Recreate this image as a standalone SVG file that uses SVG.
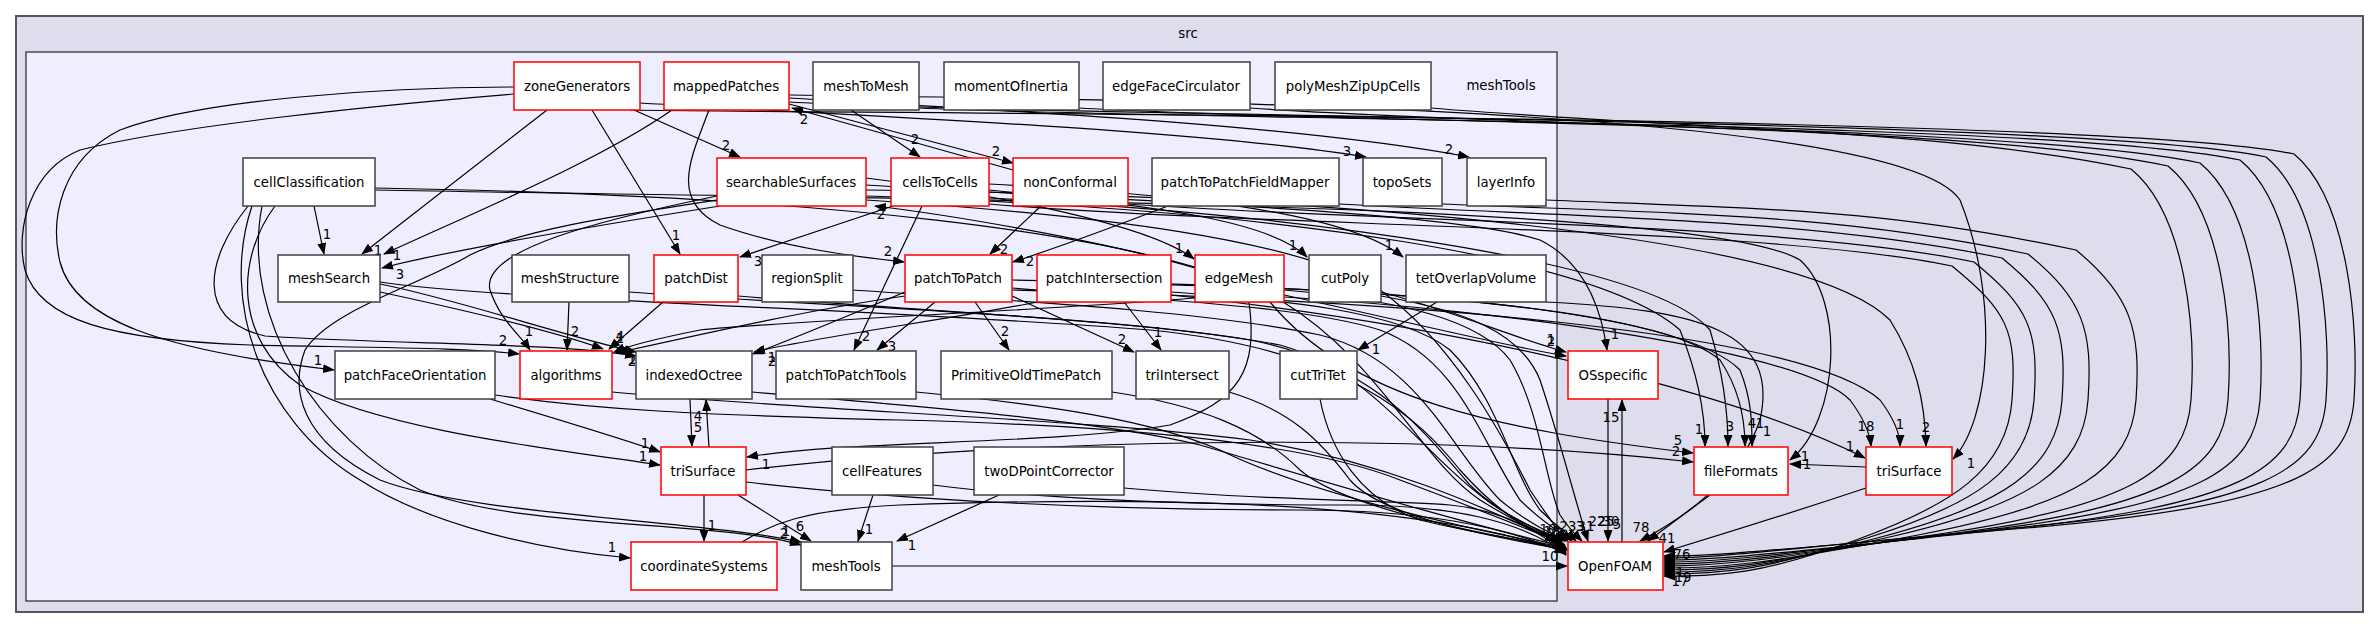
<svg xmlns="http://www.w3.org/2000/svg" width="2379" height="628" viewBox="0 0 2379 628">
<style>
.nb{fill:#fff;stroke:#404040;stroke-width:1.5}
.nr{fill:#fff;stroke:#ff0000;stroke-width:1.5}
.t{font-family:"DejaVu Sans","Liberation Sans",sans-serif;font-size:13.3px;text-anchor:middle;fill:#000}
.e{fill:none;stroke:#000;stroke-width:1.2;marker-end:url(#ah)}
.l{font-family:"DejaVu Sans","Liberation Sans",sans-serif;font-size:13.3px;text-anchor:middle;fill:#000}
</style>
<defs>
<marker id="ah" markerWidth="12" markerHeight="9" refX="11" refY="4.5" orient="auto" markerUnits="userSpaceOnUse"><path d="M0,0 L12,4.5 L0,9 z" fill="#000"/></marker>
</defs>
<g id="clusters">
<rect x="16" y="16" width="2347" height="596" fill="#ddddee" stroke="#555" stroke-width="2"/>
<text class="t" x="1188" y="38">src</text>
<rect x="26" y="52" width="1531" height="549" fill="#eeeeff" stroke="#333" stroke-width="1.3"/>
<text class="t" x="1501" y="90">meshTools</text>
</g>
<g id="edges">
<path class="e" d="M514,94 C380,105 180,125 80,150 C30,170 15,230 25,270 C40,320 110,340 250,345 C400,348 470,348 519,354"/>
<path class="e" d="M514,87 C380,87 200,100 120,130 C60,160 50,220 60,262 C75,320 160,350 334,370"/>
<path class="e" d="M547,110 L362,254"/>
<path class="e" d="M592,110 L680,254"/>
<path class="e" d="M634,110 L740,157"/>
<path class="e" d="M640,103 C900,118 1200,130 1366,157"/>
<path class="e" d="M789,98 C1000,110 1300,125 1469,157"/>
<path class="e" d="M672,110 C600,160 480,210 384,254"/>
<path class="e" d="M709,110 C690,160 670,200 720,225 C790,250 870,258 904,262"/>
<path class="e" d="M789,104 L1013,163"/>
<path class="e" d="M1013,170 L792,108"/>
<path class="e" d="M851,110 L920,157"/>
<path class="e" d="M1041,206 L990,254"/>
<path class="e" d="M1168,206 C1100,232 1050,250 1013,262"/>
<path class="e" d="M922,206 L854,350"/>
<path class="e" d="M893,206 L740,257"/>
<path class="e" d="M1195,268 C1100,240 950,215 875,206"/>
<path class="e" d="M866,178 C1000,195 1150,225 1194,259"/>
<path class="e" d="M989,190 C1150,205 1270,220 1307,257"/>
<path class="e" d="M989,184 C1200,195 1350,215 1403,257"/>
<path class="e" d="M1437,302 L1358,350"/>
<path class="e" d="M935,302 L877,350"/>
<path class="e" d="M975,302 L1009,350"/>
<path class="e" d="M1012,296 L1134,352"/>
<path class="e" d="M1124,302 L1161,350"/>
<path class="e" d="M905,292 C850,315 790,340 753,354"/>
<path class="e" d="M1037,302 C960,318 820,336 754,352"/>
<path class="e" d="M1195,298 C1050,310 800,320 700,330 C660,338 630,345 614,352"/>
<path class="e" d="M905,296 C820,308 720,330 616,353"/>
<path class="e" d="M380,284 C460,300 560,335 636,352"/>
<path class="e" d="M248,206 C205,260 195,320 265,336 C400,345 550,342 636,356"/>
<path class="e" d="M690,399 L692,446"/>
<path class="e" d="M709,447 L706,400"/>
<path class="e" d="M704,495 L704,541"/>
<path class="e" d="M738,495 L811,541"/>
<path class="e" d="M873,495 L858,541"/>
<path class="e" d="M999,495 L897,541"/>
<path class="e" d="M1249,302 C1258,370 1240,400 1170,425 C1050,445 850,440 747,457"/>
<path class="e" d="M314,206 L324,254"/>
<path class="e" d="M380,292 C450,307 550,330 603,349"/>
<path class="e" d="M569,302 L567,350"/>
<path class="e" d="M663,302 L609,349"/>
<path class="e" d="M490,399 C560,420 620,438 660,452"/>
<path class="e" d="M275,206 C235,260 235,340 300,385 C380,430 560,450 660,465"/>
<path class="e" d="M252,206 C220,300 260,420 360,480 C430,525 540,550 630,558"/>
<path class="e" d="M262,206 C240,320 320,440 420,490 C520,530 720,520 801,545"/>
<path class="e" d="M717,200 C620,215 520,230 470,255 C420,285 330,310 305,350 C290,390 300,440 380,480 C470,515 700,520 801,542"/>
<path class="e" d="M717,196 C600,220 480,250 490,290 C500,320 520,335 530,350"/>
<path class="e" d="M720,206 C600,225 450,250 382,268"/>
<path class="e" d="M1381,292 C1450,310 1520,340 1566,352"/>
<path class="e" d="M1284,295 C1400,320 1500,345 1566,356"/>
<path class="e" d="M866,185 C1100,200 1450,210 1540,240 C1580,260 1600,300 1607,350"/>
<path class="e" d="M1608,399 L1608,541"/>
<path class="e" d="M1622,542 L1622,400"/>
<path class="e" d="M1710,495 L1648,541"/>
<path class="e" d="M1270,302 C1350,400 1500,430 1693,453"/>
<path class="e" d="M746,470 C1000,440 1400,430 1693,462"/>
<path class="e" d="M866,196 C1300,210 1600,260 1680,330 C1700,380 1705,420 1705,446"/>
<path class="e" d="M989,198 C1300,215 1650,260 1710,330 C1725,380 1728,420 1728,446"/>
<path class="e" d="M1012,280 C1300,285 1650,300 1720,360 C1740,390 1745,420 1745,446"/>
<path class="e" d="M1171,285 C1400,290 1680,310 1740,370 C1752,400 1752,425 1752,446"/>
<path class="e" d="M375,190 C900,200 1700,200 1800,260 C1845,300 1840,420 1790,460"/>
<path class="e" d="M1866,467 L1790,464"/>
<path class="e" d="M866,190 C1300,195 1800,230 1890,320 C1915,360 1925,400 1926,446"/>
<path class="e" d="M1012,290 C1400,300 1800,330 1880,400 C1895,420 1900,435 1900,446"/>
<path class="e" d="M1284,297 C1500,310 1800,350 1850,400 C1865,420 1870,435 1871,446"/>
<path class="e" d="M1171,295 C1500,330 1750,400 1865,458"/>
<path class="e" d="M789,95 C1200,100 1900,110 1960,200 C2000,300 1990,420 1953,459"/>
<path class="e" d="M1866,488 C1800,510 1720,535 1664,552"/>
<path class="e" d="M630,110 C880,114 2104,114 2294,154 C2349,199 2359,330 2354,400 C2349,470 2294,505 2027,528 S1720,556 1664,556"/>
<path class="e" d="M789,102 C1039,117 2076,117 2266,157 C2321,202 2331,330 2326,400 C2321,470 2266,505 2013,528 S1720,558 1664,558"/>
<path class="e" d="M919,108 C1169,120 2050,120 2240,160 C2295,205 2305,330 2300,400 C2295,470 2240,505 2000,530 S1720,560 1664,560"/>
<path class="e" d="M1079,108 C1329,123 2010,123 2200,163 C2255,208 2265,330 2260,400 C2255,470 2200,505 1980,531 S1720,562 1664,562"/>
<path class="e" d="M1250,108 C1500,126 1978,126 2168,166 C2223,211 2233,330 2228,400 C2223,470 2168,505 1964,532 S1720,564 1664,564"/>
<path class="e" d="M1431,108 C1681,129 1941,129 2131,169 C2186,214 2196,330 2191,400 C2186,470 2131,505 1946,533 S1720,566 1664,566"/>
<path class="e" d="M1546,200 C1796,210 1886,210 2076,250 C2131,295 2141,330 2136,400 C2131,470 2076,505 1918,535 S1720,568 1664,568"/>
<path class="e" d="M1442,204 C1692,214 1838,214 2028,254 C2083,299 2093,330 2088,400 C2083,470 2028,505 1894,536 S1720,570 1664,570"/>
<path class="e" d="M1339,204 C1589,218 1812,218 2002,258 C2057,303 2067,330 2062,400 C2057,470 2002,505 1881,537 S1720,572 1664,572"/>
<path class="e" d="M1128,204 C1378,222 1784,222 1974,262 C2029,307 2039,330 2034,400 C2029,470 1974,505 1867,538 S1720,574 1664,574"/>
<path class="e" d="M989,204 C1239,226 1762,226 1952,266 C2007,311 2017,330 2012,400 C2007,470 1952,505 1856,540 S1720,576 1664,576"/>
<path class="e" d="M380,282 C500,300 900,310 1150,330 C1350,350 1420,420 1460,470 C1500,515 1530,530 1556,541"/>
<path class="e" d="M629,292 C800,305 1100,315 1250,340 C1380,365 1430,440 1470,485 C1500,515 1540,530 1560,541"/>
<path class="e" d="M738,296 C900,310 1150,320 1280,345 C1370,370 1420,450 1480,495 C1510,520 1545,532 1565,541"/>
<path class="e" d="M853,290 C1000,300 1200,310 1320,335 C1420,360 1450,450 1500,500 C1530,525 1555,535 1568,541"/>
<path class="e" d="M1012,288 C1150,300 1300,305 1380,330 C1460,360 1480,440 1520,500 C1545,525 1565,535 1572,541"/>
<path class="e" d="M1171,292 C1280,300 1400,310 1450,350 C1500,400 1510,470 1540,510 C1560,530 1570,535 1576,541"/>
<path class="e" d="M1284,290 C1400,300 1480,320 1510,360 C1540,410 1545,480 1560,515 C1570,530 1578,537 1582,541"/>
<path class="e" d="M1381,296 C1460,310 1520,330 1540,380 C1560,440 1575,500 1588,541"/>
<path class="e" d="M1546,302 C1700,310 1780,330 1760,420 C1740,480 1680,520 1640,541"/>
<path class="e" d="M495,395 C600,410 700,415 900,420 C1100,425 1300,440 1400,480 C1480,510 1530,530 1562,543"/>
<path class="e" d="M612,392 C800,410 1100,420 1250,440 C1380,460 1480,505 1565,545"/>
<path class="e" d="M752,392 C900,405 1100,420 1200,445 C1320,480 1450,520 1566,547"/>
<path class="e" d="M916,392 C1050,405 1150,420 1220,450 C1300,490 1450,525 1566,548"/>
<path class="e" d="M1112,392 C1200,405 1260,430 1300,470 C1340,505 1460,530 1567,549"/>
<path class="e" d="M1229,392 C1290,410 1320,440 1350,480 C1380,515 1480,535 1567,550"/>
<path class="e" d="M1320,399 C1330,450 1360,500 1420,520 C1480,535 1530,540 1566,551"/>
<path class="e" d="M746,482 C900,500 1100,510 1300,510 C1420,510 1500,525 1566,553"/>
<path class="e" d="M933,485 C1050,500 1200,505 1350,505 C1450,505 1520,520 1566,554"/>
<path class="e" d="M1124,488 C1250,500 1380,500 1450,505 C1500,510 1540,530 1566,555"/>
<path class="e" d="M742,542 C770,525 800,510 900,505 C1100,498 1400,495 1566,552"/>
<path class="e" d="M892,566 L1567,566"/>
<path class="e" d="M375,188 C800,195 1150,230 1280,300 C1380,360 1420,460 1480,500 C1520,525 1545,535 1560,541"/>
<path class="e" d="M866,200 C1100,215 1300,240 1380,290 C1450,340 1500,430 1530,490 C1550,520 1560,532 1565,541"/>
</g>
<g id="edge-labels">
<text class="l" x="503" y="345">2</text>
<text class="l" x="318" y="365">1</text>
<text class="l" x="378" y="255">1</text>
<text class="l" x="676" y="240">1</text>
<text class="l" x="726" y="150">2</text>
<text class="l" x="1347" y="156">3</text>
<text class="l" x="1449" y="154">2</text>
<text class="l" x="397" y="260">1</text>
<text class="l" x="888" y="256">2</text>
<text class="l" x="996" y="156">2</text>
<text class="l" x="804" y="124">2</text>
<text class="l" x="915" y="144">2</text>
<text class="l" x="1004" y="254">2</text>
<text class="l" x="1030" y="266">2</text>
<text class="l" x="866" y="341">2</text>
<text class="l" x="758" y="266">3</text>
<text class="l" x="881" y="219">2</text>
<text class="l" x="1179" y="253">1</text>
<text class="l" x="1293" y="250">1</text>
<text class="l" x="1389" y="250">1</text>
<text class="l" x="1376" y="354">1</text>
<text class="l" x="892" y="351">3</text>
<text class="l" x="1005" y="336">2</text>
<text class="l" x="1122" y="344">2</text>
<text class="l" x="1158" y="337">1</text>
<text class="l" x="772" y="362">1</text>
<text class="l" x="772" y="366">2</text>
<text class="l" x="632" y="366">2</text>
<text class="l" x="632" y="364">1</text>
<text class="l" x="698" y="421">4</text>
<text class="l" x="698" y="432">5</text>
<text class="l" x="712" y="530">1</text>
<text class="l" x="800" y="531">6</text>
<text class="l" x="869" y="534">1</text>
<text class="l" x="912" y="550">1</text>
<text class="l" x="766" y="469">1</text>
<text class="l" x="327" y="239">1</text>
<text class="l" x="620" y="343">1</text>
<text class="l" x="575" y="336">2</text>
<text class="l" x="620" y="341">4</text>
<text class="l" x="645" y="448">1</text>
<text class="l" x="643" y="461">1</text>
<text class="l" x="612" y="552">1</text>
<text class="l" x="784" y="538">2</text>
<text class="l" x="786" y="536">1</text>
<text class="l" x="529" y="336">1</text>
<text class="l" x="400" y="279">3</text>
<text class="l" x="1551" y="344">1</text>
<text class="l" x="1551" y="346">2</text>
<text class="l" x="1615" y="339">1</text>
<text class="l" x="1611" y="422">15</text>
<text class="l" x="1617" y="529">5</text>
<text class="l" x="1667" y="543">41</text>
<text class="l" x="1678" y="445">5</text>
<text class="l" x="1676" y="456">2</text>
<text class="l" x="1699" y="434">1</text>
<text class="l" x="1730" y="431">3</text>
<text class="l" x="1752" y="428">4</text>
<text class="l" x="1760" y="428">1</text>
<text class="l" x="1767" y="436">1</text>
<text class="l" x="1807" y="469">1</text>
<text class="l" x="1805" y="461">1</text>
<text class="l" x="1926" y="432">2</text>
<text class="l" x="1900" y="429">1</text>
<text class="l" x="1866" y="431">18</text>
<text class="l" x="1850" y="451">1</text>
<text class="l" x="1971" y="468">1</text>
<text class="l" x="1682" y="559">76</text>
<text class="l" x="1680" y="577">1</text>
<text class="l" x="1683" y="582">19</text>
<text class="l" x="1680" y="586">17</text>
<text class="l" x="1548" y="534">10</text>
<text class="l" x="1552" y="536">18</text>
<text class="l" x="1555" y="538">27</text>
<text class="l" x="1568" y="531">23</text>
<text class="l" x="1580" y="531">3</text>
<text class="l" x="1586" y="531">31</text>
<text class="l" x="1597" y="526">22</text>
<text class="l" x="1606" y="526">25</text>
<text class="l" x="1611" y="526">30</text>
<text class="l" x="1641" y="532">78</text>
<text class="l" x="1550" y="561">10</text>
</g>
<g id="n-zoneGenerators"><rect class="nr" x="514" y="62" width="126" height="48"/><text class="t" x="577" y="91">zoneGenerators</text></g>
<g id="n-mappedPatches"><rect class="nr" x="664" y="62" width="125" height="48"/><text class="t" x="726" y="91">mappedPatches</text></g>
<g id="n-meshToMesh"><rect class="nb" x="813" y="62" width="106" height="48"/><text class="t" x="866" y="91">meshToMesh</text></g>
<g id="n-momentOfInertia"><rect class="nb" x="944" y="62" width="135" height="48"/><text class="t" x="1011" y="91">momentOfInertia</text></g>
<g id="n-edgeFaceCirculator"><rect class="nb" x="1103" y="62" width="147" height="48"/><text class="t" x="1176" y="91">edgeFaceCirculator</text></g>
<g id="n-polyMeshZipUpCells"><rect class="nb" x="1275" y="62" width="156" height="48"/><text class="t" x="1353" y="91">polyMeshZipUpCells</text></g>
<g id="n-cellClassification"><rect class="nb" x="243" y="158" width="132" height="48"/><text class="t" x="309" y="187">cellClassification</text></g>
<g id="n-searchableSurfaces"><rect class="nr" x="717" y="158" width="149" height="48"/><text class="t" x="791" y="187">searchableSurfaces</text></g>
<g id="n-cellsToCells"><rect class="nr" x="891" y="158" width="98" height="48"/><text class="t" x="940" y="187">cellsToCells</text></g>
<g id="n-nonConformal"><rect class="nr" x="1013" y="158" width="115" height="48"/><text class="t" x="1070" y="187">nonConformal</text></g>
<g id="n-patchToPatchFieldMapper"><rect class="nb" x="1152" y="158" width="187" height="48"/><text class="t" x="1245" y="187">patchToPatchFieldMapper</text></g>
<g id="n-topoSets"><rect class="nb" x="1363" y="158" width="79" height="48"/><text class="t" x="1402" y="187">topoSets</text></g>
<g id="n-layerInfo"><rect class="nb" x="1467" y="158" width="79" height="48"/><text class="t" x="1506" y="187">layerInfo</text></g>
<g id="n-meshSearch"><rect class="nb" x="278" y="255" width="102" height="47"/><text class="t" x="329" y="283">meshSearch</text></g>
<g id="n-meshStructure"><rect class="nb" x="512" y="255" width="117" height="47"/><text class="t" x="570" y="283">meshStructure</text></g>
<g id="n-patchDist"><rect class="nr" x="654" y="255" width="84" height="47"/><text class="t" x="696" y="283">patchDist</text></g>
<g id="n-regionSplit"><rect class="nb" x="762" y="255" width="91" height="47"/><text class="t" x="807" y="283">regionSplit</text></g>
<g id="n-patchToPatch"><rect class="nr" x="905" y="255" width="107" height="47"/><text class="t" x="958" y="283">patchToPatch</text></g>
<g id="n-patchIntersection"><rect class="nr" x="1037" y="255" width="134" height="47"/><text class="t" x="1104" y="283">patchIntersection</text></g>
<g id="n-edgeMesh"><rect class="nr" x="1195" y="255" width="89" height="47"/><text class="t" x="1239" y="283">edgeMesh</text></g>
<g id="n-cutPoly"><rect class="nb" x="1309" y="255" width="72" height="47"/><text class="t" x="1345" y="283">cutPoly</text></g>
<g id="n-tetOverlapVolume"><rect class="nb" x="1406" y="255" width="140" height="47"/><text class="t" x="1476" y="283">tetOverlapVolume</text></g>
<g id="n-patchFaceOrientation"><rect class="nb" x="335" y="351" width="160" height="48"/><text class="t" x="415" y="380">patchFaceOrientation</text></g>
<g id="n-algorithms"><rect class="nr" x="520" y="351" width="92" height="48"/><text class="t" x="566" y="380">algorithms</text></g>
<g id="n-indexedOctree"><rect class="nb" x="636" y="351" width="116" height="48"/><text class="t" x="694" y="380">indexedOctree</text></g>
<g id="n-patchToPatchTools"><rect class="nb" x="776" y="351" width="140" height="48"/><text class="t" x="846" y="380">patchToPatchTools</text></g>
<g id="n-PrimitiveOldTimePatch"><rect class="nb" x="941" y="351" width="171" height="48"/><text class="t" x="1026" y="380">PrimitiveOldTimePatch</text></g>
<g id="n-triIntersect"><rect class="nb" x="1136" y="351" width="93" height="48"/><text class="t" x="1182" y="380">triIntersect</text></g>
<g id="n-cutTriTet"><rect class="nb" x="1280" y="351" width="77" height="48"/><text class="t" x="1318" y="380">cutTriTet</text></g>
<g id="n-OSspecific"><rect class="nr" x="1568" y="351" width="90" height="48"/><text class="t" x="1613" y="380">OSspecific</text></g>
<g id="n-triSurface-inner"><rect class="nr" x="661" y="447" width="85" height="48"/><text class="t" x="703" y="476">triSurface</text></g>
<g id="n-cellFeatures"><rect class="nb" x="832" y="447" width="101" height="48"/><text class="t" x="882" y="476">cellFeatures</text></g>
<g id="n-twoDPointCorrector"><rect class="nb" x="974" y="447" width="150" height="48"/><text class="t" x="1049" y="476">twoDPointCorrector</text></g>
<g id="n-fileFormats"><rect class="nr" x="1694" y="447" width="94" height="48"/><text class="t" x="1741" y="476">fileFormats</text></g>
<g id="n-triSurface"><rect class="nr" x="1866" y="447" width="86" height="48"/><text class="t" x="1909" y="476">triSurface</text></g>
<g id="n-coordinateSystems"><rect class="nr" x="631" y="542" width="146" height="48"/><text class="t" x="704" y="571">coordinateSystems</text></g>
<g id="n-meshTools"><rect class="nb" x="801" y="542" width="91" height="48"/><text class="t" x="846" y="571">meshTools</text></g>
<g id="n-OpenFOAM"><rect class="nr" x="1568" y="542" width="95" height="48"/><text class="t" x="1615" y="571">OpenFOAM</text></g>
</svg>
